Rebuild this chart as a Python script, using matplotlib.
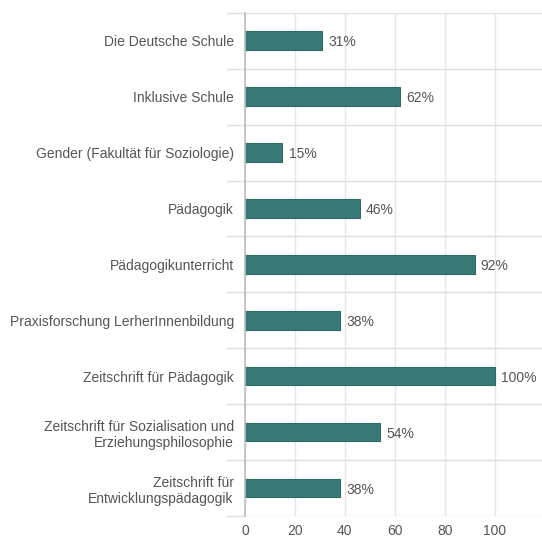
import numpy as np
import matplotlib
matplotlib.use("Agg")
import matplotlib.pyplot as plt

categories = [
    "Die Deutsche Schule",
    "Inklusive Schule",
    "Gender (Fakultät für Soziologie)",
    "Pädagogik",
    "Pädagogikunterricht",
    "Praxisforschung LerherInnenbildung",
    "Zeitschrift für Pädagogik",
    "Zeitschrift für Sozialisation und\nErziehungsphilosophie",
    "Zeitschrift für\nEntwicklungspädagogik",
]
values = [31, 62, 15, 46, 92, 38, 100, 54, 38]
x_ticks = [0, 20, 40, 60, 80, 100]

plt.rcParams["font.family"] = ["Liberation Sans", "DejaVu Sans"]
text_color = "#555555"
bar_color = "#3a7a76"
fs = 10

fig = plt.figure(figsize=(5.42, 5.40), dpi=100)
ax = fig.add_axes([0.452, 0.0444, 0.548, 0.932])

y = np.arange(len(categories))
ax.barh(y, values, height=0.33, color=bar_color, edgecolor="#2f6b67", linewidth=0.8)

for yi, v in zip(y, values):
    ax.text(v + 2.5, yi + 0.03, f"{v}%", va="center", ha="left", fontsize=fs, color=text_color)

ax.set_ylim(len(categories) - 0.5, -0.5)
ax.set_xlim(0, 119)
ax.set_yticks(y)
ax.set_yticklabels(categories, fontsize=fs, color=text_color, linespacing=1.25)
ax.set_yticks(np.arange(-0.5, len(categories), 1), minor=True)
ax.set_xticks(x_ticks)
ax.set_xticklabels([str(t) for t in x_ticks], fontsize=fs, color=text_color)

ax.tick_params(axis="y", which="major", length=0, pad=8)
ax.tick_params(axis="y", which="minor", length=14, color="#e0e0e0", width=1)
ax.tick_params(axis="x", length=0, pad=6)

ax.grid(True, axis="x", color="#e6e6e6", linewidth=1)
ax.grid(True, axis="y", which="minor", color="#e0e0e0", linewidth=1)
ax.set_axisbelow(True)

for s in ["top", "right", "bottom"]:
    ax.spines[s].set_visible(False)
ax.spines["left"].set_color("#bdbdbd")
ax.spines["left"].set_linewidth(1.2)

fig.savefig("out.png", dpi=100)
